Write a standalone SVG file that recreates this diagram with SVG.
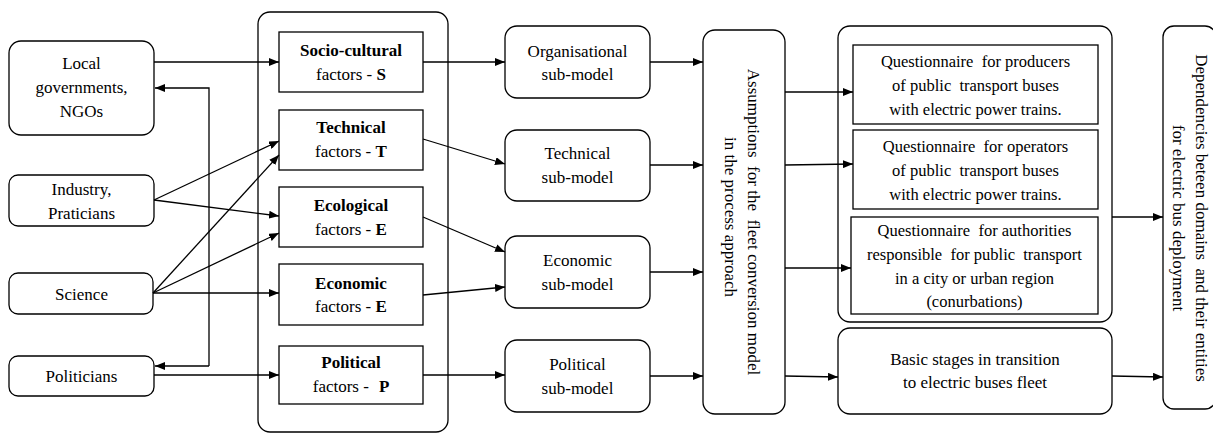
<svg xmlns="http://www.w3.org/2000/svg" width="1213" height="434" viewBox="0 0 1213 434">
  <style>
    text { text-anchor: middle; }
    .b { font-weight: bold; }
    .box { fill: #fff; stroke: #000; stroke-width: 1.3; }
    .frame { fill: none; stroke: #000; stroke-width: 1.3; }
    .q { font-size: 16.5px; }
    #connectors path, #connectors line { fill: none; stroke: #000; stroke-width: 1.3; }
  </style>
  <defs>
    <marker id="arrow" viewBox="0 0 10 8" refX="10" refY="4" markerWidth="10" markerHeight="8" markerUnits="userSpaceOnUse" orient="auto">
      <path d="M0,0 L10,4 L0,8 Z" fill="#000"/>
    </marker>
  </defs>
  <rect width="1213" height="434" fill="#fff"/>

  <g font-family="'Liberation Serif', 'Times New Roman', serif" font-size="17" fill="#000">
  <!-- stakeholder groups -->
  <g id="local-gov">
    <rect class="box" x="9" y="41" width="145" height="94" rx="12"/>
    <text x="81.5" y="69">Local</text>
    <text x="81.5" y="93">governments,</text>
    <text x="81.5" y="117">NGOs</text>
  </g>
  <g id="industry">
    <rect class="box" x="9" y="175" width="145" height="51" rx="9"/>
    <text x="81.5" y="195">Industry,</text>
    <text x="81.5" y="219">Praticians</text>
  </g>
  <g id="science">
    <rect class="box" x="9" y="273" width="144" height="41" rx="9"/>
    <text x="81.5" y="300">Science</text>
  </g>
  <g id="politicians">
    <rect class="box" x="9" y="356" width="145" height="40" rx="9"/>
    <text x="81.5" y="382">Politicians</text>
  </g>

  <!-- factor group -->
  <g id="factors">
    <rect class="frame" x="258" y="12" width="190" height="420" rx="12"/>
  </g>
  <g id="factor-s">
    <rect class="box" x="279" y="32" width="144" height="60"/>
    <text class="b" x="351" y="56">Socio-cultural</text>
    <text x="351" y="80">factors - <tspan class="b">S</tspan></text>
  </g>
  <g id="factor-t">
    <rect class="box" x="279" y="110" width="144" height="60"/>
    <text class="b" x="351" y="133">Technical</text>
    <text x="351" y="157">factors - <tspan class="b">T</tspan></text>
  </g>
  <g id="factor-e1">
    <rect class="box" x="279" y="187" width="144" height="60"/>
    <text class="b" x="351" y="211">Ecological</text>
    <text x="351" y="235">factors - <tspan class="b">E</tspan></text>
  </g>
  <g id="factor-e2">
    <rect class="box" x="279" y="264" width="144" height="61"/>
    <text class="b" x="351" y="289">Economic</text>
    <text x="351" y="312">factors - <tspan class="b">E</tspan></text>
  </g>
  <g id="factor-p">
    <rect class="box" x="279" y="346" width="144" height="58"/>
    <text class="b" x="351" y="368">Political</text>
    <text x="351" y="392">factors -<tspan class="b" dx="10">P</tspan></text>
  </g>

  <!-- sub-models -->
  <g id="sub-org">
    <rect class="box" x="505" y="26" width="145" height="72" rx="12"/>
    <text x="577.5" y="57">Organisational</text>
    <text x="577.5" y="80">sub-model</text>
  </g>
  <g id="sub-tech">
    <rect class="box" x="505" y="130" width="145" height="71" rx="12"/>
    <text x="577.5" y="159">Technical</text>
    <text x="577.5" y="183">sub-model</text>
  </g>
  <g id="sub-eco">
    <rect class="box" x="505" y="236" width="145" height="72" rx="12"/>
    <text x="577.5" y="265.5">Economic</text>
    <text x="577.5" y="289.5">sub-model</text>
  </g>
  <g id="sub-pol">
    <rect class="box" x="505" y="340" width="145" height="72" rx="12"/>
    <text x="577.5" y="369.5">Political</text>
    <text x="577.5" y="393.5">sub-model</text>
  </g>

  <!-- assumptions -->
  <g id="assumptions">
    <rect class="box" x="703" y="30" width="82" height="384" rx="12"/>
    <text transform="translate(748,222) rotate(90)" x="0" y="0" xml:space="preserve">Assumptions  for the  fleet conversion model</text>
    <text transform="translate(725,217) rotate(90)" x="0" y="0">in the process approach</text>
  </g>

  <!-- questionnaires -->
  <g id="questionnaires">
    <rect class="frame" x="838" y="26" width="274" height="296" rx="12"/>
  </g>
  <g id="q-producers">
    <rect class="box" x="853" y="45" width="245" height="79"/>
    <text class="q" x="975.5" y="67" xml:space="preserve">Questionnaire  for producers</text>
    <text class="q" x="975.5" y="91" xml:space="preserve">of public  transport buses</text>
    <text class="q" x="975.5" y="115">with electric power trains.</text>
  </g>
  <g id="q-operators">
    <rect class="box" x="853" y="130" width="245" height="79"/>
    <text class="q" x="975.5" y="152" xml:space="preserve">Questionnaire  for operators</text>
    <text class="q" x="975.5" y="176" xml:space="preserve">of public  transport buses</text>
    <text class="q" x="975.5" y="200">with electric power trains.</text>
  </g>
  <g id="q-authorities">
    <rect class="box" x="851" y="217" width="247" height="97"/>
    <text class="q" x="974.5" y="236" xml:space="preserve">Questionnaire  for authorities</text>
    <text class="q" x="974.5" y="260" xml:space="preserve">responsible  for public  transport</text>
    <text class="q" x="974.5" y="284">in a city or urban region</text>
    <text class="q" x="974.5" y="307">(conurbations)</text>
  </g>
  <g id="basic-stages">
    <rect class="box" x="838" y="328" width="274" height="86" rx="12"/>
    <text x="975" y="365">Basic stages in transition</text>
    <text x="975" y="388">to electric buses fleet</text>
  </g>

  <!-- dependencies -->
  <g id="dependencies">
    <rect class="box" x="1163" y="26" width="53" height="383" rx="11"/>
    <text transform="translate(1196,218) rotate(90)" x="0" y="0" xml:space="preserve">Dependencies beteen domains  and their entities</text>
    <text transform="translate(1173,218) rotate(90)" x="0" y="0">for electric bus deployment</text>
  </g>
  </g>

  <g id="connectors">
    <line x1="154" y1="62" x2="279" y2="62" marker-end="url(#arrow)"/>
    <path d="M209,366 V88 H155" marker-end="url(#arrow)"/>
    <path d="M209,366 H155" marker-end="url(#arrow)"/>
    <line x1="154" y1="375" x2="279" y2="375" marker-end="url(#arrow)"/>
    <line x1="154" y1="200" x2="279" y2="141" marker-end="url(#arrow)"/>
    <line x1="154" y1="200" x2="279" y2="216" marker-end="url(#arrow)"/>
    <line x1="153" y1="293" x2="279" y2="155" marker-end="url(#arrow)"/>
    <line x1="153" y1="293" x2="279" y2="233" marker-end="url(#arrow)"/>
    <line x1="153" y1="293" x2="279" y2="293" marker-end="url(#arrow)"/>

    <line x1="423" y1="62" x2="505" y2="62" marker-end="url(#arrow)"/>
    <line x1="423" y1="139" x2="505" y2="164" marker-end="url(#arrow)"/>
    <line x1="423" y1="217" x2="505" y2="252" marker-end="url(#arrow)"/>
    <line x1="423" y1="295" x2="505" y2="287" marker-end="url(#arrow)"/>
    <line x1="423" y1="375" x2="505" y2="375" marker-end="url(#arrow)"/>

    <line x1="650" y1="62" x2="703" y2="62" marker-end="url(#arrow)"/>
    <line x1="650" y1="165" x2="703" y2="165" marker-end="url(#arrow)"/>
    <line x1="650" y1="272" x2="703" y2="272" marker-end="url(#arrow)"/>
    <line x1="650" y1="376" x2="703" y2="376" marker-end="url(#arrow)"/>

    <line x1="785" y1="92" x2="853" y2="92" marker-end="url(#arrow)"/>
    <line x1="785" y1="165" x2="853" y2="164" marker-end="url(#arrow)"/>
    <line x1="785" y1="268" x2="851" y2="268" marker-end="url(#arrow)"/>
    <line x1="785" y1="376" x2="838" y2="377" marker-end="url(#arrow)"/>

    <line x1="1112" y1="217" x2="1163" y2="217" marker-end="url(#arrow)"/>
    <line x1="1112" y1="376" x2="1163" y2="377" marker-end="url(#arrow)"/>
  </g>
</svg>
